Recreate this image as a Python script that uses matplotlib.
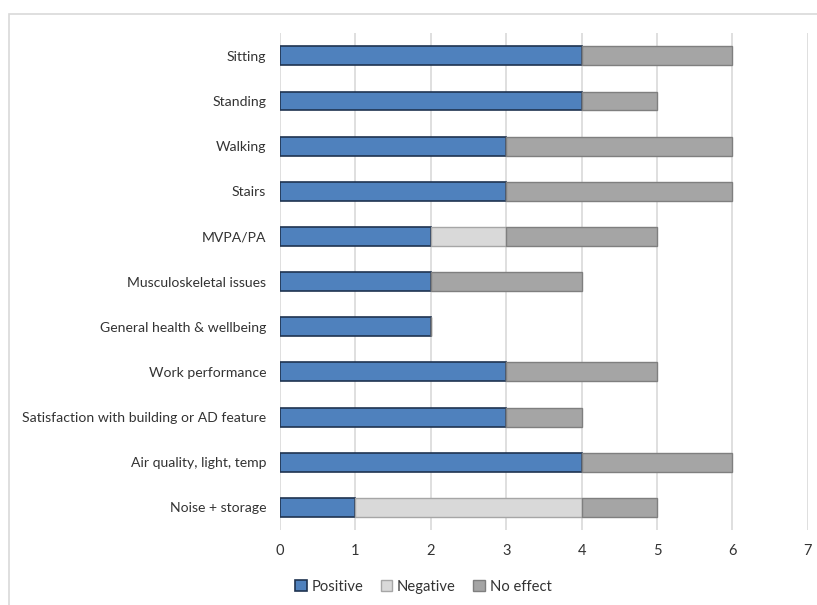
import matplotlib.pyplot as plt
import matplotlib.patches as mpatches
import numpy as np

categories = ['Sitting', 'Standing', 'Walking', 'Stairs', 'MVPA/PA',
              'Musculoskeletal issues', 'General health & wellbeing',
              'Work performance', 'Satisfaction with building or AD feature',
              'Air quality, light, temp', 'Noise + storage']
positive = [4, 4, 3, 3, 2, 2, 2, 3, 3, 4, 1]
negative = [0, 0, 0, 0, 1, 0, 0, 0, 0, 0, 3]
no_effect = [2, 1, 3, 3, 2, 2, 0, 2, 1, 2, 1]
x_ticks = [0, 1, 2, 3, 4, 5, 6, 7]

plt.rcParams['font.family'] = ['Lato', 'DejaVu Sans']
plt.rcParams['font.size'] = 10.1

fig = plt.figure(figsize=(8.17, 6.05), dpi=100)
ax = fig.add_axes([0.3427, 0.124, 0.646, 0.821])

y = np.arange(len(categories))
h = 0.42
pos = np.array(positive)
neg = np.array(negative)
noe = np.array(no_effect)

ax.barh(y, pos, height=h, color='#4F81BD', edgecolor='#1F3350', linewidth=1.2,
        label='Positive', zorder=3)
ax.barh(y, neg, left=pos, height=h, color='#D9D9D9', edgecolor='#A6A6A6',
        linewidth=1.0, label='Negative', zorder=3)
ax.barh(y, noe, left=pos + neg, height=h, color='#A5A5A5', edgecolor='#7F7F7F',
        linewidth=1.0, label='No effect', zorder=3)

ax.set_xlim(0, 7)
ax.set_ylim(len(categories) - 0.5, -0.5)
ax.set_xticks(x_ticks)
ax.set_yticks(y)
ax.set_yticklabels(categories, color='#333333')
ax.tick_params(axis='x', colors='#333333', length=0, pad=10, labelsize=10.5)
ax.tick_params(axis='y', length=0, pad=10)
ax.xaxis.grid(True, color='#D9D9D9', linewidth=1.2, zorder=0)
for s in ax.spines.values():
    s.set_visible(False)

leg = fig.legend(loc='center', bbox_to_anchor=(0.518, 0.03), ncol=3, frameon=False,
                 handlelength=0.8, handleheight=0.8, handletextpad=0.3,
                 columnspacing=1.2, fontsize=10.6)
for t in leg.get_texts():
    t.set_color('#333333')

# outer chart border
fig.patches.append(mpatches.Rectangle((9 / 817, -0.01), 1.0, 1 - 14 / 605 + 0.01,
                                      transform=fig.transFigure, fill=False,
                                      edgecolor='#D9D9D9', linewidth=1.2))

fig.savefig('out.png', dpi=100)
